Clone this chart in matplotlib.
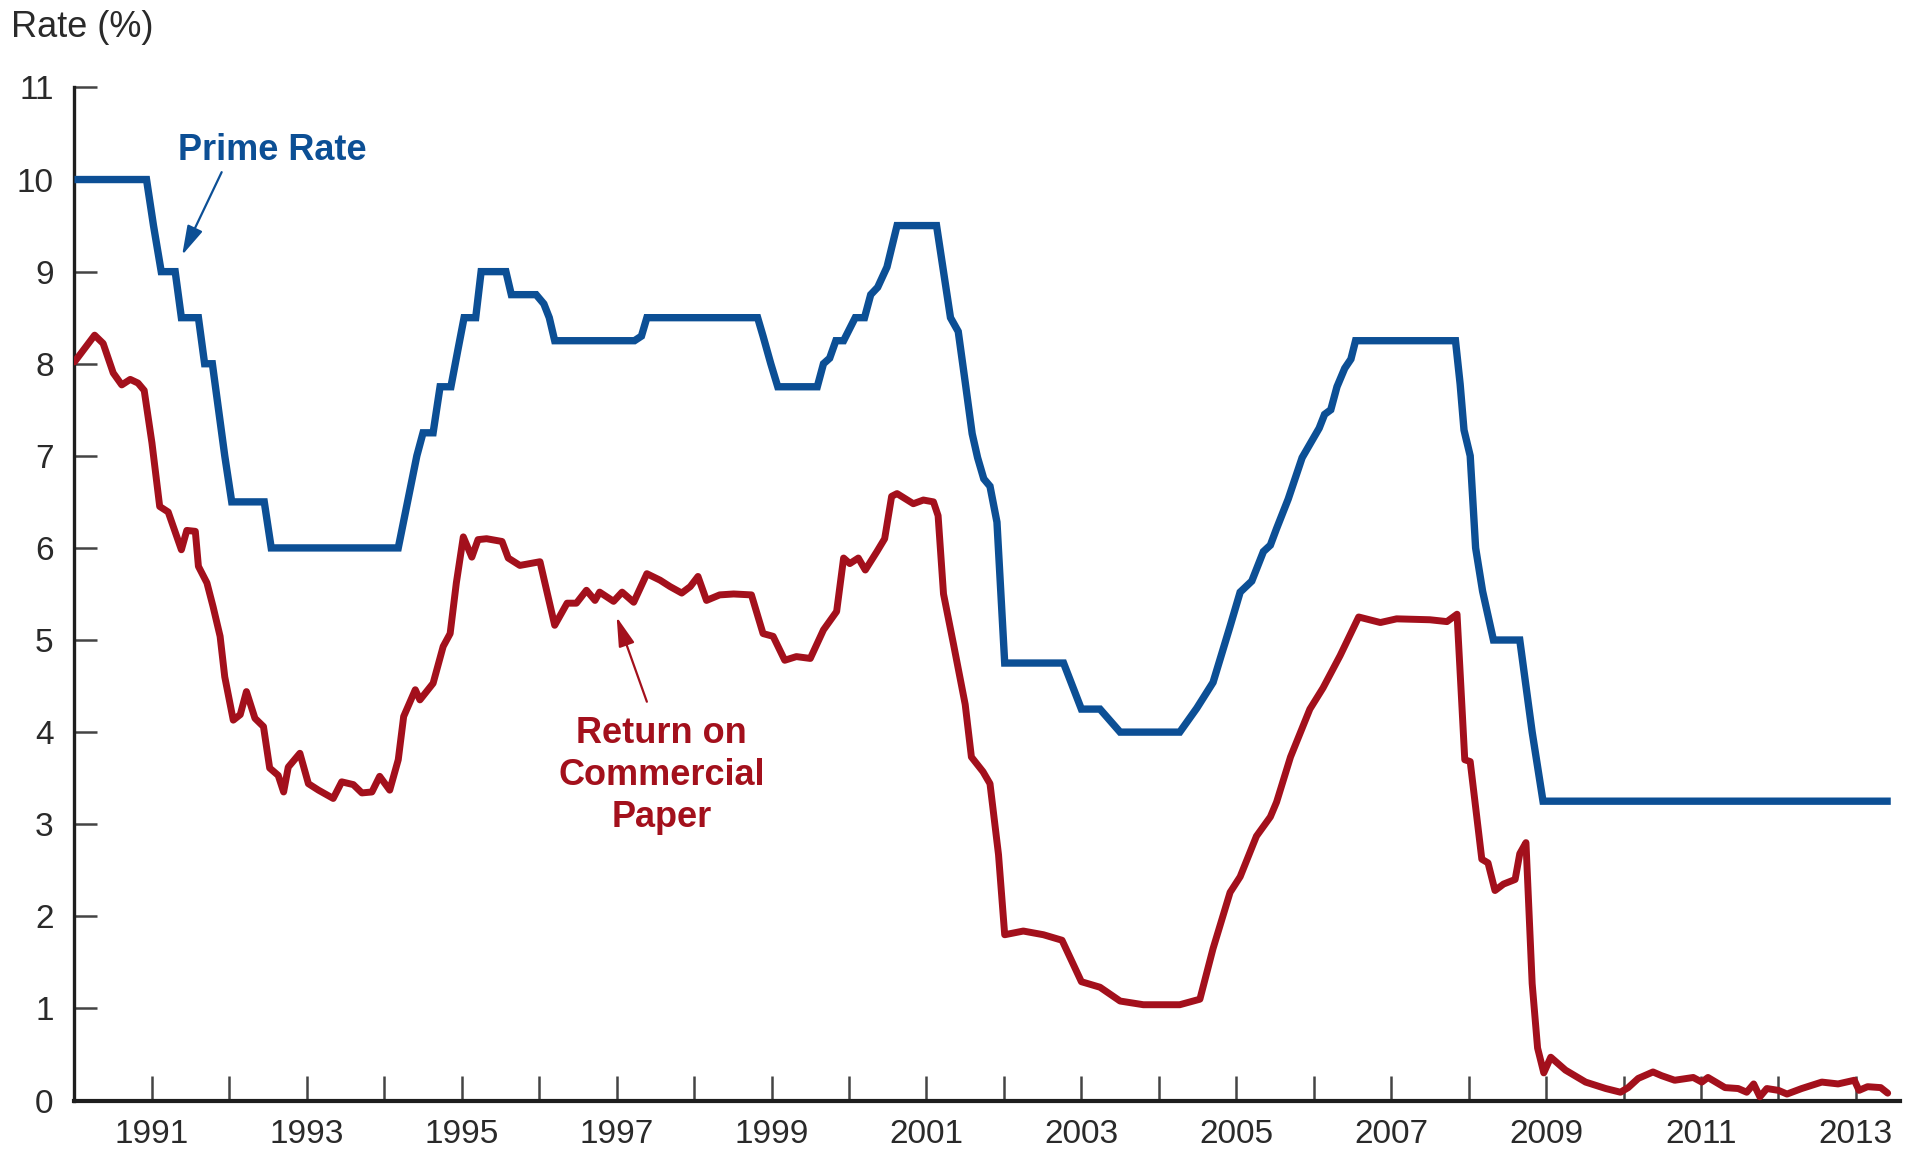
import matplotlib
matplotlib.use("Agg")
import matplotlib.pyplot as plt

plt.rcParams['font.family'] = ['Liberation Sans', 'DejaVu Sans']

# Prime rate (%), breakpoints by decimal year
prime_dates = [
    1990.00, 1990.93, 1991.02, 1991.12, 1991.30, 1991.38, 1991.60, 1991.68,
    1991.78, 1991.86, 1991.94, 1992.03, 1992.45, 1992.54, 1994.18, 1994.30,
    1994.42, 1994.50, 1994.63, 1994.72, 1994.86, 1994.95, 1995.03, 1995.18,
    1995.25, 1995.57, 1995.64, 1995.96, 1996.06, 1996.13, 1996.20, 1997.23,
    1997.32, 1997.39, 1998.82, 1998.89, 1998.99, 1999.08, 1999.59, 1999.67,
    1999.75, 1999.83, 1999.93, 2000.08, 2000.20, 2000.28, 2000.37, 2000.49,
    2000.62, 2001.13, 2001.22, 2001.31, 2001.41, 2001.50, 2001.59, 2001.66,
    2001.74, 2001.82, 2001.91, 2002.01, 2002.77, 2003.00, 2003.24, 2003.50,
    2004.27, 2004.49, 2004.70, 2004.92, 2005.05, 2005.20, 2005.35, 2005.44,
    2005.52, 2005.67, 2005.85, 2006.07, 2006.14, 2006.22, 2006.30, 2006.40,
    2006.48, 2006.54, 2007.83, 2007.89, 2007.94, 2008.02, 2008.09, 2008.18,
    2008.32, 2008.66, 2008.82, 2008.96, 2013.45,
]
prime_rate = [
    10.00, 10.00, 9.50, 9.00, 9.00, 8.50, 8.50, 8.00,
    8.00, 7.50, 7.00, 6.50, 6.50, 6.00, 6.00, 6.50,
    7.00, 7.25, 7.25, 7.75, 7.75, 8.15, 8.50, 8.50,
    9.00, 9.00, 8.75, 8.75, 8.65, 8.50, 8.25, 8.25,
    8.30, 8.50, 8.50, 8.30, 8.00, 7.75, 7.75, 8.00,
    8.06, 8.25, 8.25, 8.50, 8.50, 8.75, 8.83, 9.05,
    9.50, 9.50, 9.00, 8.50, 8.35, 7.80, 7.24, 6.98,
    6.75, 6.67, 6.28, 4.75, 4.75, 4.25, 4.25, 4.00,
    4.00, 4.26, 4.54, 5.15, 5.52, 5.64, 5.96, 6.03,
    6.21, 6.53, 6.98, 7.30, 7.45, 7.50, 7.75, 7.95,
    8.05, 8.25, 8.25, 7.78, 7.28, 7.00, 6.00, 5.53,
    5.00, 5.00, 4.00, 3.25, 3.25,
]

# Return on commercial paper (%), by decimal year
cp_dates = [
    1990.00, 1990.26, 1990.37, 1990.50, 1990.61, 1990.72, 1990.82, 1990.90,
    1991.00, 1991.10, 1991.21, 1991.38, 1991.45, 1991.56, 1991.60, 1991.71,
    1991.79, 1991.88, 1991.94, 1992.05, 1992.14, 1992.22, 1992.33, 1992.44,
    1992.52, 1992.63, 1992.70, 1992.76, 1992.91, 1993.02, 1993.15, 1993.34,
    1993.45, 1993.60, 1993.71, 1993.84, 1993.94, 1994.07, 1994.18, 1994.25,
    1994.40, 1994.46, 1994.63, 1994.76, 1994.85, 1994.93, 1995.02, 1995.13,
    1995.21, 1995.32, 1995.52, 1995.60, 1995.75, 1996.01, 1996.20, 1996.36,
    1996.48, 1996.61, 1996.72, 1996.78, 1996.96, 1997.07, 1997.22, 1997.39,
    1997.56, 1997.69, 1997.84, 1997.95, 1998.05, 1998.16, 1998.33, 1998.51,
    1998.74, 1998.89, 1999.02, 1999.17, 1999.32, 1999.50, 1999.67, 1999.84,
    1999.93, 2000.01, 2000.12, 2000.21, 2000.36, 2000.46, 2000.55, 2000.62,
    2000.83, 2000.96, 2001.09, 2001.15, 2001.22, 2001.35, 2001.50, 2001.58,
    2001.73, 2001.82, 2001.93, 2002.01, 2002.25, 2002.51, 2002.75, 2003.00,
    2003.24, 2003.50, 2003.80, 2004.27, 2004.53, 2004.70, 2004.92, 2005.05,
    2005.26, 2005.44, 2005.52, 2005.70, 2005.95, 2006.12, 2006.34, 2006.58,
    2006.86, 2007.07, 2007.50, 2007.72, 2007.85, 2007.95, 2008.02, 2008.17,
    2008.25, 2008.34, 2008.45, 2008.60, 2008.66, 2008.74, 2008.82, 2008.89,
    2008.97, 2009.06, 2009.25, 2009.51, 2009.77, 2009.96, 2010.06, 2010.19,
    2010.38, 2010.49, 2010.66, 2010.90, 2011.01, 2011.09, 2011.31, 2011.48,
    2011.59, 2011.68, 2011.76, 2011.85, 2012.00, 2012.11, 2012.30, 2012.56,
    2012.77, 2012.98, 2013.04, 2013.15, 2013.32, 2013.41,
]
cp_rate = [
    8.02, 8.31, 8.22, 7.90, 7.77, 7.83, 7.79, 7.71,
    7.14, 6.45, 6.39, 5.98, 6.19, 6.18, 5.80, 5.62,
    5.36, 5.04, 4.60, 4.13, 4.19, 4.44, 4.15, 4.06,
    3.61, 3.53, 3.35, 3.62, 3.77, 3.44, 3.37, 3.28,
    3.46, 3.43, 3.34, 3.35, 3.52, 3.37, 3.70, 4.17,
    4.46, 4.35, 4.53, 4.93, 5.07, 5.62, 6.12, 5.90,
    6.09, 6.10, 6.07, 5.89, 5.81, 5.85, 5.16, 5.40,
    5.40, 5.54, 5.43, 5.52, 5.42, 5.52, 5.41, 5.72,
    5.65, 5.58, 5.51, 5.58, 5.69, 5.43, 5.49, 5.50,
    5.49, 5.07, 5.04, 4.78, 4.82, 4.80, 5.11, 5.31,
    5.89, 5.83, 5.89, 5.76, 5.96, 6.10, 6.56, 6.59,
    6.48, 6.52, 6.50, 6.35, 5.50, 4.95, 4.30, 3.73,
    3.57, 3.44, 2.67, 1.80, 1.84, 1.80, 1.74, 1.29,
    1.23, 1.08, 1.04, 1.04, 1.10, 1.65, 2.26, 2.43,
    2.87, 3.08, 3.24, 3.73, 4.25, 4.48, 4.83, 5.25,
    5.19, 5.23, 5.22, 5.20, 5.28, 3.70, 3.68, 2.62,
    2.58, 2.28, 2.35, 2.40, 2.68, 2.80, 1.27, 0.57,
    0.30, 0.47, 0.33, 0.20, 0.13, 0.09, 0.14, 0.24,
    0.31, 0.27, 0.22, 0.25, 0.20, 0.25, 0.14, 0.13,
    0.09, 0.18, 0.04, 0.13, 0.11, 0.07, 0.13, 0.20,
    0.18, 0.22, 0.11, 0.15, 0.14, 0.08,
]

year_ticks = list(range(1991, 2014))
year_labels = [str(y) if y % 2 == 1 else '' for y in year_ticks]
rate_ticks = list(range(0, 12))
rate_labels = [str(v) for v in rate_ticks]

BLUE = '#0c4f95'
RED = '#a3101c'
INK = '#2a2a2a'

fig = plt.figure(figsize=(19.15, 11.52), dpi=100)
ax = fig.add_axes([0.0389, 0.0447, 0.9533, 0.8794])

ax.plot(prime_dates, prime_rate, color=BLUE, lw=5.3, solid_joinstyle='miter',
        solid_capstyle='butt', zorder=3)
ax.plot(cp_dates, cp_rate, color=RED, lw=5.0, solid_joinstyle='round',
        solid_capstyle='round', zorder=3)

ax.set_xlim(1990, 2013.57)
ax.set_ylim(0, 11)

for side in ('top', 'right'):
    ax.spines[side].set_visible(False)
ax.spines['left'].set_linewidth(2.4)
ax.spines['bottom'].set_linewidth(3.0)
ax.spines['left'].set_color('#1e1e1e')
ax.spines['bottom'].set_color('#1e1e1e')

ax.set_xticks(year_ticks)
ax.set_xticklabels(year_labels)
ax.set_yticks(rate_ticks)
ax.set_yticklabels(rate_labels)
ax.tick_params(axis='x', direction='in', length=18, width=1.8, color='#444444',
               pad=13, labelsize=24, labelcolor=INK)
ax.tick_params(axis='y', direction='in', length=16.5, width=1.8, color='#444444',
               pad=15, labelsize=24, labelcolor=INK)

fig.text(0.006, 1 - 37 / 1152, 'Rate (%)', fontsize=26, color=INK,
         ha='left', va='baseline')

# Series labels with pointer arrows
ax.text(1992.55, 10.32, 'Prime Rate', fontsize=26, fontweight='bold',
        color=BLUE, ha='center', va='center')
ax.annotate('', xy=(1991.39, 9.18), xytext=(1991.90, 10.08),
            arrowprops=dict(arrowstyle='-|>,head_length=0.9,head_width=0.25',
                            color=BLUE, lw=1.6, mutation_scale=20,
                            shrinkA=0, shrinkB=0))

ax.text(1997.58, 3.53, 'Return on\nCommercial\nPaper', fontsize=26,
        fontweight='bold', color=RED, ha='center', va='center',
        linespacing=1.25, multialignment='center')
ax.annotate('', xy=(1997.0, 5.25), xytext=(1997.39, 4.33),
            arrowprops=dict(arrowstyle='-|>,head_length=0.9,head_width=0.25',
                            color=RED, lw=1.6, mutation_scale=20,
                            shrinkA=0, shrinkB=0))

fig.savefig('out.png', dpi=100, facecolor='white')
